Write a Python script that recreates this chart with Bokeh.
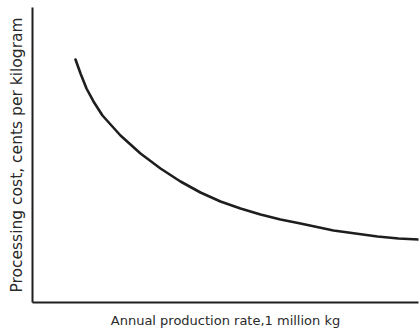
from bokeh.plotting import figure
from bokeh.models import Range1d, FixedTicker
from bokeh.embed import file_html
from bokeh.resources import INLINE

# Data (arbitrary units: axes have no tick values)
production_rate = [1.114, 1.244, 1.399, 1.580, 1.813, 2.280, 2.798, 3.316, 3.834, 4.352, 4.870,
                   5.389, 5.907, 6.425, 6.943, 7.798, 8.368, 8.938, 9.482, 10.0]
processing_cost = [8.237, 7.763, 7.254, 6.814, 6.339, 5.661, 5.051, 4.542, 4.102, 3.729, 3.424,
                   3.186, 2.983, 2.814, 2.678, 2.441, 2.339, 2.237, 2.169, 2.136]

x_label = "Annual production rate,1 million kg"
y_label = "Processing cost, cents per kilogram"

p = figure(width=420, height=331, output_backend="svg", toolbar_location=None,
           x_range=Range1d(0, 10), y_range=Range1d(0, 10),
           min_border_left=32, min_border_right=2, min_border_top=7, min_border_bottom=29)

p.line(production_rate, processing_cost, line_color="#1e1e1e", line_width=2.6,
       line_join="round", line_cap="round")

p.outline_line_color = None
p.xgrid.visible = False
p.ygrid.visible = False

for ax in (p.xaxis[0], p.yaxis[0]):
    ax.ticker = FixedTicker(ticks=[])
    ax.minor_tick_line_color = None
    ax.major_tick_line_color = None
    ax.major_tick_out = 0
    ax.major_tick_in = 0
    ax.major_label_standoff = 0
    ax.axis_line_color = "#1e1e1e"
    ax.axis_line_width = 2
    ax.axis_label_text_font = "DejaVu Sans"
    ax.axis_label_text_font_style = "normal"
    ax.axis_label_text_color = "#2a2a2a"

p.xaxis[0].axis_label = x_label
p.xaxis[0].axis_label_text_font_size = "13px"
p.xaxis[0].axis_label_standoff = 10
p.yaxis[0].axis_label = y_label
p.yaxis[0].axis_label_text_font_size = "15.5px"
p.yaxis[0].axis_label_standoff = 7

open("out.html", "w").write(file_html(p, INLINE))
